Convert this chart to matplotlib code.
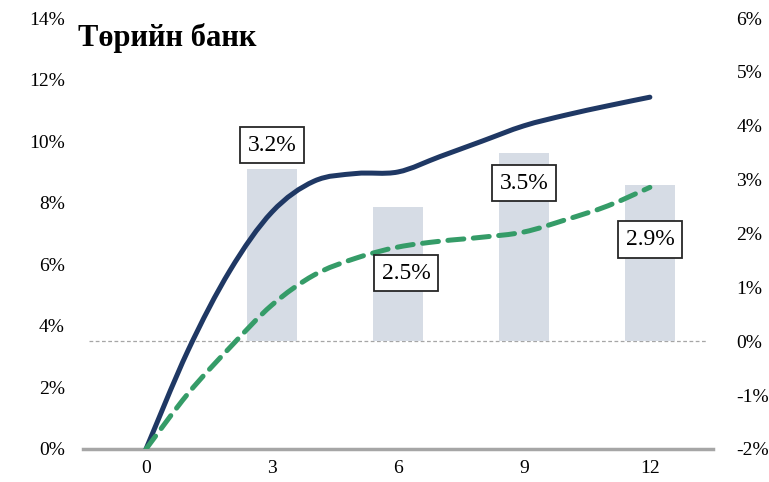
import matplotlib.pyplot as plt
from matplotlib.path import Path
from matplotlib.patches import PathPatch
from matplotlib.ticker import FuncFormatter

# Сарууд ба хоёр муруйн утга (зүүн тэнхлэг, %)
months = list(range(13))
navy_line = [0.0, 3.2, 5.8, 7.7, 8.7, 8.95, 9.0, 9.5, 10.0, 10.5, 10.85, 11.15, 11.43]
green_line = [0.0, 1.8, 3.3, 4.68, 5.65, 6.2, 6.56, 6.75, 6.88, 7.05, 7.45, 7.9, 8.5]

# Баганууд (баруун тэнхлэг, %)
bar_months = [3, 6, 9, 12]
bar_values = [3.2, 2.5, 3.5, 2.9]
bar_labels = ['3.2%', '2.5%', '3.5%', '2.9%']

title = 'Төрийн банк'

serif = ['Liberation Serif', 'DejaVu Serif']
plt.rcParams['font.family'] = serif


def smooth_path(xs, ys):
    # Excel-ийн "smoothed line" шиг куб Безье муруй
    pts = list(zip(xs, ys))
    verts = [pts[0]]
    codes = [Path.MOVETO]
    n = len(pts)
    for i in range(n - 1):
        p0 = pts[i - 1] if i > 0 else pts[i]
        p1 = pts[i]
        p2 = pts[i + 1]
        p3 = pts[i + 2] if i + 2 < n else pts[i + 1]
        c1 = (p1[0] + (p2[0] - p0[0]) / 6, p1[1] + (p2[1] - p0[1]) / 6)
        c2 = (p2[0] - (p3[0] - p1[0]) / 6, p2[1] - (p3[1] - p1[1]) / 6)
        verts += [c1, c2, p2]
        codes += [Path.CURVE4] * 3
    return Path(verts, codes)


fig = plt.figure(figsize=(7.69, 4.82), dpi=100)
ax = fig.add_axes([0.108, 0.0685, 0.819, 0.894])
ax2 = ax.twinx()

# баганыг шугамын ард харуулна
ax.set_zorder(2)
ax.patch.set_visible(False)

ax2.bar(bar_months, bar_values, width=1.2, color='#d6dce5', zorder=1)
ax2.axhline(0, xmin=0.01, xmax=0.99, color='#a6a6a6', lw=0.9, ls=(0, (3, 2)), zorder=0)

ax.add_patch(PathPatch(smooth_path(months, navy_line), fill=False, ec='#1f3864',
                       lw=3.6, capstyle='round', zorder=3))
ax.add_patch(PathPatch(smooth_path(months, green_line), fill=False, ec='#359c68',
                       lw=3.6, ls=(0, (3.2, 1.9)), capstyle='round', zorder=3))

# шошгын байрлал (баруун тэнхлэгийн утгаар)
label_y = [3.64, 1.26, 2.93, 1.89]
label_x = [3, 6.2, 9, 12]
for lx, ly, txt in zip(label_x, label_y, bar_labels):
    ax.text(lx, ly, txt, transform=ax2.transData, ha='center', va='center',
            fontsize=17, color='black', zorder=5,
            bbox=dict(boxstyle='square,pad=0.32', fc='white', ec='#262626', lw=1.3))

ax.set_xlim(-1.5, 13.5)
ax.set_ylim(0, 14)
ax2.set_ylim(-2, 6)
ax.set_xticks([0, 3, 6, 9, 12])
ax.set_yticks(range(0, 15, 2))
ax2.set_yticks(range(-2, 7))

pct = FuncFormatter(lambda v, p: f'{v:.0f}%')
ax.yaxis.set_major_formatter(pct)
ax2.yaxis.set_major_formatter(pct)

for a in (ax, ax2):
    for s in ('left', 'right', 'top'):
        a.spines[s].set_visible(False)
    a.tick_params(length=0, labelsize=14)
ax2.spines['bottom'].set_visible(False)
ax.spines['bottom'].set_color('#a6a6a6')
ax.spines['bottom'].set_linewidth(2.5)
ax.tick_params(axis='y', pad=13)
ax.tick_params(axis='x', pad=8)
ax2.tick_params(axis='y', pad=17)

fig.text(0.101, 0.922, title, fontsize=22, fontweight='bold', ha='left', va='center',
         family=serif)

fig.savefig('out.png', dpi=100)
